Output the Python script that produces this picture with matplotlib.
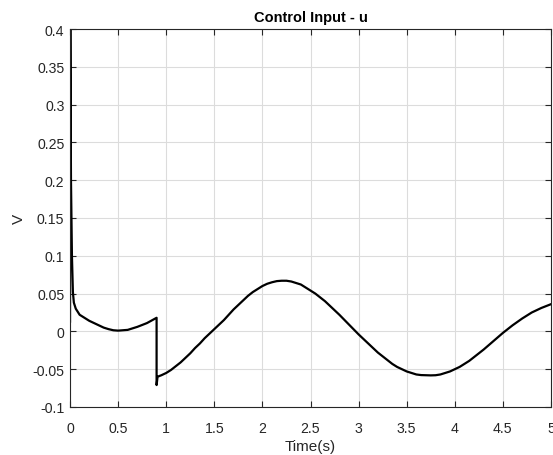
import numpy as np
import matplotlib
matplotlib.use('Agg')
import matplotlib.pyplot as plt

# control input u
t_start = [0.0, 0.003, 0.01, 0.02, 0.03, 0.04, 0.06, 0.08]
u_start = [0.013, 0.4, 0.2, 0.1, 0.052, 0.038, 0.03, 0.026]

t_first = [0.1, 0.15, 0.2, 0.25, 0.3, 0.35, 0.4, 0.45, 0.5, 0.55, 0.6, 0.65, 0.7,
           0.75, 0.8, 0.85, 0.9]
u_first = [0.022, 0.018, 0.014, 0.011, 0.008, 0.005, 0.003, 0.0015, 0.001, 0.0015,
           0.002, 0.004, 0.006, 0.0085, 0.011, 0.0145, 0.018]

t_second = [0.9, 0.91, 0.95, 1.0, 1.05, 1.1, 1.15, 1.2, 1.25, 1.3, 1.35, 1.4, 1.45,
            1.5, 1.55, 1.6, 1.65, 1.7, 1.75, 1.8, 1.85, 1.9, 1.95, 2.0, 2.05, 2.1,
            2.15, 2.2, 2.25, 2.3, 2.35, 2.4, 2.45, 2.5, 2.55, 2.6, 2.65, 2.7, 2.75,
            2.8, 2.85, 2.9, 2.95, 3.0, 3.05, 3.1, 3.15, 3.2, 3.25, 3.3, 3.35, 3.4,
            3.45, 3.5, 3.55, 3.6, 3.65, 3.7, 3.75, 3.8, 3.85, 3.9, 3.95, 4.0, 4.05,
            4.1, 4.15, 4.2, 4.25, 4.3, 4.35, 4.4, 4.45, 4.5, 4.55, 4.6, 4.65, 4.7,
            4.75, 4.8, 4.85, 4.9, 4.95, 5.0]
u_second = [-0.071, -0.060, -0.058, -0.055, -0.051, -0.046, -0.041, -0.035, -0.029,
            -0.022, -0.016, -0.009, -0.003, 0.003, 0.009, 0.015, 0.022, 0.029, 0.035,
            0.041, 0.047, 0.052, 0.056, 0.060, 0.063, 0.065, 0.0665, 0.067, 0.067,
            0.066, 0.064, 0.062, 0.058, 0.054, 0.050, 0.045, 0.040, 0.034, 0.028,
            0.022, 0.0155, 0.009, 0.0025, -0.004, -0.010, -0.016, -0.022, -0.028,
            -0.033, -0.038, -0.043, -0.047, -0.050, -0.053, -0.055, -0.057, -0.0578,
            -0.058, -0.0582, -0.058, -0.057, -0.055, -0.053, -0.050, -0.047, -0.043,
            -0.039, -0.034, -0.029, -0.024, -0.0185, -0.013, -0.0075, -0.002, 0.003,
            0.008, 0.0125, 0.017, 0.021, 0.025, 0.028, 0.031, 0.0335, 0.036]

t = t_start + t_first + t_second
u = u_start + u_first + u_second

plt.rcParams['font.family'] = ['Liberation Sans', 'DejaVu Sans']

fig = plt.figure(figsize=(5.53, 4.56), dpi=100)
ax = fig.add_axes([0.1266, 0.1053, 0.8698, 0.8289])
ax.plot(t, u, color='k', lw=1.6, solid_joinstyle='round')

ax.set_xlim(0, 5)
ax.set_ylim(-0.1, 0.4)
ax.set_xticks(np.arange(0, 5.01, 0.5))
ax.set_xticklabels(['0', '0.5', '1', '1.5', '2', '2.5', '3', '3.5', '4', '4.5', '5'])
ax.set_yticks(np.arange(-0.1, 0.401, 0.05))
ax.set_yticklabels(['-0.1', '-0.05', '0', '0.05', '0.1', '0.15', '0.2', '0.25',
                    '0.3', '0.35', '0.4'])
ax.grid(True, color='#dcdcdc', lw=0.8)
ax.set_axisbelow(True)
ax.tick_params(direction='in', top=True, right=True, labelsize=10.2,
               colors='#262626', length=4, width=0.8)
ax.tick_params(axis='x', pad=10)
ax.tick_params(axis='y', pad=4)
for s in ax.spines.values():
    s.set_color('#262626')
    s.set_linewidth(0.8)

ax.set_title('Control Input - u', fontsize=10.5, fontweight='bold', pad=6)
ax.set_xlabel('Time(s)', fontsize=11, color='#262626', labelpad=3)
ax.set_ylabel('V', fontsize=11, color='#262626', labelpad=5)

fig.savefig('out.png', dpi=100)
